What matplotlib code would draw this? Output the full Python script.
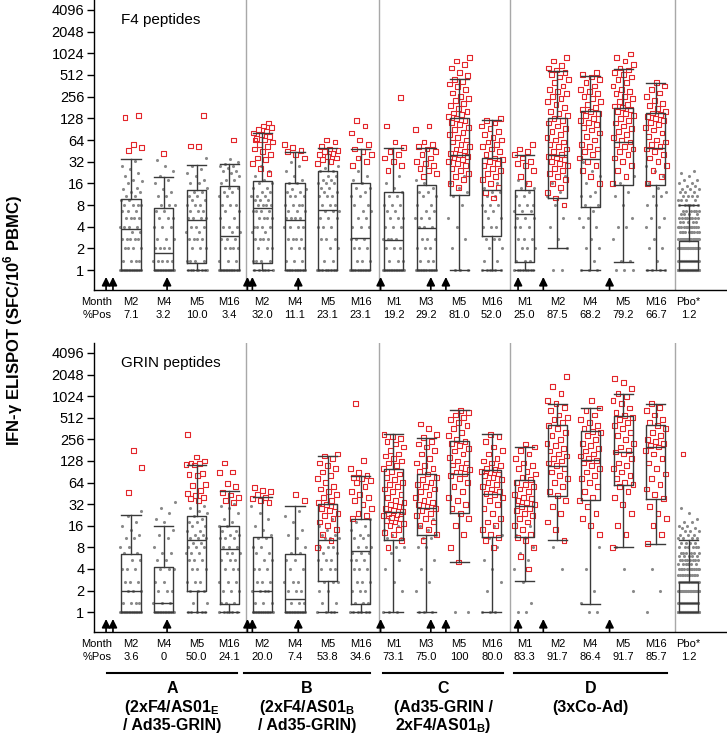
import numpy as np
import matplotlib
matplotlib.use('Agg')
import matplotlib.pyplot as plt
from matplotlib.ticker import NullLocator

plt.rcParams['font.family'] = ['Liberation Sans', 'DejaVu Sans']
plt.rcParams['mathtext.fontset'] = 'custom'
plt.rcParams['mathtext.rm'] = 'Liberation Sans'
plt.rcParams['mathtext.bf'] = 'Liberation Sans:bold'

# ---- data ----
months = ['M2', 'M4', 'M5', 'M16', 'M2', 'M4', 'M5', 'M16',
          'M1', 'M3', 'M5', 'M16', 'M1', 'M2', 'M4', 'M5', 'M16', 'Pbo*']
pct_f4 = ['7.1', '3.2', '10.0', '3.4', '32.0', '11.1', '23.1', '23.1',
          '19.2', '29.2', '81.0', '52.0', '25.0', '87.5', '68.2', '79.2', '66.7', '1.2']
pct_grin = ['3.6', '0', '50.0', '24.1', '20.0', '7.4', '53.8', '34.6',
            '73.1', '75.0', '100', '80.0', '83.3', '91.7', '86.4', '91.7', '85.7', '1.2']

groups = ['A', 'B', 'C', 'D']
group_desc = [[r'(2xF4/AS01$_\mathbf{E}$', '/ Ad35-GRIN)'],
              [r'(2xF4/AS01$_\mathbf{B}$', '/ Ad35-GRIN)'],
              ['(Ad35-GRIN /', r'2xF4/AS01$_\mathbf{B}$)'],
              ['(3xCo-Ad)']]

# vaccination arrows (x in box-slot units)
vacc_x = [-0.76, -0.55, 1.10, 3.55, 3.70, 5.10, 7.61, 9.14, 9.60, 11.80, 12.57, 14.59]

# box stats: (whisker low, q1, median, q3, whisker high)
box_f4 = [(1, 1, 3.7, 9.6, 35), (1, 1, 1.7, 7.3, 19.5), (1, 1.25, 5, 13, 28.6), (1, 1, 3, 14.6, 29.5),
          (1, 1.25, 7.3, 17, 80), (1, 1, 5, 16, 44), (1, 1, 6.8, 24, 50), (1, 1, 2.8, 16, 48),
          (1, 1, 2.6, 12, 50), (1, 1, 3.8, 15, 50), (1, 11, 40, 128, 450), (1, 3, 13, 36, 120),
          (1, 1.3, 6, 13, 40), (2, 10, 40, 128, 580), (1, 7.5, 35, 160, 500), (1.3, 15, 60, 180, 620),
          (1, 15, 50, 150, 400), (1, 1, 1.33, 2.5, 8)]
box_grin = [(1, 1, 2, 6.4, 22.4), (1, 1, 1.33, 4.3, 15.8), (1, 2, 10, 22, 112), (1, 1.3, 7.6, 16, 48),
            (1, 1, 2, 11, 40), (1, 1, 1.5, 6.5, 30), (1, 2.7, 10, 32, 150), (1, 1.3, 7, 20, 80),
            (1, 10, 25, 100, 300), (1, 12, 28, 85, 270), (5, 24, 85, 240, 650), (1, 11, 45, 95, 300),
            (2.7, 11, 30, 70, 200), (10, 42, 110, 400, 800), (1.3, 36, 130, 330, 700), (8, 60, 170, 550, 1100),
            (9, 38, 200, 400, 800), (1, 1, 1.33, 2.6, 10)]

# individual responses, "value*count"
gray_f4 = [
    "1*16 1.33*4 2*4 2.67*5 3.33*2 4*4 5.33*4 6.67*3 8*4 9.33*2 10.67*2 12*2 13.3 14 16 17 18 20 22 25 28 33",
    "1*15 1.33*5 2*4 2.67*3 4*3 5.33*3 6.67*2 8*3 10.67*2 12 13.3 16 18 20 24 28 34",
    "1*8 1.33*4 2*3 2.67*4 3.33*2 4*3 5.33*4 6.67*3 8*3 9.33*2 10.67*2 12*2 14 16*2 18 20 22 25 28 36",
    "1*12 1.33*3 2*4 2.67*3 3.33*2 4*3 5.33*2 6.67*2 8*3 10.67*2 12*2 14*2 16 18*2 20 22 24*2 26 28*2 30 32 35",
    "1*6 1.33*4 2*3 2.67*4 3.33*2 4*4 5.33*4 6.67*4 8*4 9.33*3 10.67*3 12*2 14*2 16*2 18 20 24 28",
    "1*10 1.33*3 2*3 2.67*4 4*4 5.33*4 6.67*3 8*4 10.67*3 12*2 13.3*2 16*2 18 20 24 28 32",
    "1*8 1.33*2 2*2 2.67*3 4*3 5.33*3 6.67*3 8*3 10.67*3 12*2 14*2 16*3 18*2 20*2 24*2 26 28",
    "1*12 1.33*3 2*3 2.67*3 4*3 5.33*2 6.67*2 8*2 10.67*2 12 14*2 16 18 20 24",
    "1*14 1.33*3 2*3 2.67*4 4*3 5.33*3 6.67*2 8*3 10.67*2 12 14 16 20",
    "1*12 1.33*3 2*3 2.67*3 4*3 5.33*3 6.67*2 8*2 10.67*2 12*2 14 16 18",
    "1*3 2 2.67 4 5.33 8 10.67 12 14 16 20",
    "1*6 1.33*2 2*2 2.67*3 4*3 5.33*2 6.67*2 8*3 10.67*2 12*2 14 16",
    "1*8 1.33*3 2*3 2.67*3 4*3 5.33*3 6.67*3 8*3 10.67*2 12 14*2 16 18",
    "1*2 2 2.67 4 5.33 8 10.67 12 16 20",
    "1*3 1.33 2*2 2.67 4*2 5.33*2 6.67 8*2 10.67*2 12 16 20 24 32",
    "1*3 1.33*2 2.67 4*2 5.33 8 10.67 12 16 20",
    "1*4 1.33 2*2 2.67 4*2 5.33*2 8*2 10.67*2 12 14 16 20 24 28",
    "1*60 1.33*30 2*25 2.67*20 3.33*10 4*12 4.67*5 5.33*8 6*4 6.67*6 8*6 9.33*4 10.67*4 12*3 13.3*3 14.67*2 16*2 18*2 20 22 24",
]
red_f4 = [
    "46 50 56 130 140",
    "42",
    "52 53 140",
    "64",
    "22 26 30 34 36 40 44 48 52 56 60 64 68 72 76 80 84 90 96 100 64 110",
    "36 40 44 46 50 56",
    "30 32 34 36 38 40 42 44 46 48 52 60 64",
    "28 32 36 40 44 48 56 64 80 100 120",
    "24 28 32 36 40 44 50 60 100 250",
    "20 22 24 26 28 30 32 36 40 44 48 52 56 60 90 100",
    "14 16 18 20 22 24 26 28 30 32 34 36 38 40 42 45 48 52 56 60 64 70 76 82 90 96 104 112 120 128 136 144 "
    "152 160 176 192 208 224 240 256 288 320 352 384 416 448 500 560 640 720 800 900",
    "10 12 14 16 18 20 22 24 26 28 30 32 34 36 40 44 48 52 56 60 64 70 76 84 92 100 110 120 128",
    "16 20 24 28 30 32 36 40 44 48 56",
    "8 10 12 14 16 18 20 22 24 26 28 30 32 34 36 38 40 44 48 52 56 60 64 70 76 84 92 100 110 120 128 140 "
    "150 160 180 200 220 240 256 280 300 320 360 400 440 480 520 560 600 640 700 800 900",
    "16 20 24 28 32 36 40 44 48 52 56 64 72 80 88 96 104 112 120 128 140 150 160 170 180 200 220 240 260 "
    "280 300 320 360 400 440 480 520 560",
    "16 20 24 28 32 36 40 44 48 52 56 60 64 70 76 84 92 100 110 120 128 140 150 160 170 180 190 200 220 "
    "240 260 280 300 320 360 400 440 480 520 560 600 640 720 800 900 1000",
    "16 20 24 28 32 36 40 44 48 52 56 60 64 72 80 88 96 104 112 120 128 136 144 152 160 176 192 208 224 "
    "256 288 320 360 400",
    "",
]
gray_grin = [
    "1*16 1.33*4 2*3 2.67*3 4*3 5.33*2 6.67*2 8*2 10.67*2 12 14 16 18 22 26",
    "1*14 1.33*3 2*3 2.67*2 4*3 5.33*2 6.67*2 8 10.67 12 14 18 20 24 28 34",
    "1*5 1.33*2 2*3 2.67*3 4*3 5.33*3 6.67*3 8*3 9.33*2 10.67*3 12*2 13.3*2 16*2 18*2 20 22 24 26 28 30",
    "1*6 1.33*3 2*3 2.67*3 4*3 5.33*3 6.67*3 8*3 10.67*3 12*2 13.3*2 16*2 18 20 24 28 30 32",
    "1*12 1.33*3 2*4 2.67*3 4*3 5.33*2 6.67*2 8*2 10.67*2 12 14 16 20 24 30",
    "1*13 1.33*3 2*3 2.67*3 4*2 5.33*2 6.67*2 8 10.67 12 14 18 22 26",
    "1*4 1.33*2 2*2 2.67*3 4*3 5.33*3 6.67*2 8*3 10.67*3 12*2 14 16 20",
    "1*6 1.33*3 2*3 2.67*3 4*3 5.33*3 6.67*3 8*3 10.67*2 12*2 14 16 18 20",
    "1*3 2 2.67 4 5.33 6.67 8*2 10.67*2 12 14 16 20 24",
    "1*3 2 2.67 4 5.33 8*2 10.67*2 12 14 16 20",
    "1*2",
    "1*3 2 2.67 4 5.33 8 10.67 12 16",
    "1*2 1.33 2.67 4 5.33 6.67 8 10.67 12 16",
    "4 8",
    "1*2 1.33 2 4 8",
    "2 4 8",
    "1 2 4",
    "1*55 1.33*30 2*25 2.67*20 3.33*12 4*12 4.67*6 5.33*8 6*5 6.67*6 8*6 9.33*4 10.67*4 12*3 13.3*3 14.67*2 16*2 18*2 20 24 28",
]
red_grin = [
    "47 105 180",
    "",
    "36 38 40 42 45 50 58 60 80 82 85 112 115 118 120 128 145 300",
    "34 36 40 43 47 56 62 88 90 120",
    "34 36 38 40 44 48 50 55",
    "36 44",
    "8 10 12 14 16 18 20 22 24 26 28 30 32 34 36 40 44 48 52 56 64 72 80 90 100 110 120 140 150 160",
    "20 22 24 28 32 36 40 44 48 56 64 68 72 76 80 88 100 130 800",
    "8 10 12 13 14 16 17 18 19 20 21 22 23 24 25 26 28 30 32 34 36 40 44 48 52 56 60 64 70 76 84 92 100 110 "
    "120 128 140 150 160 180 200 220 240 260 280 300",
    "10 12 14 16 18 20 22 24 26 28 30 32 34 36 40 44 48 52 56 60 64 70 76 84 92 100 110 120 140 160 180 200 "
    "220 240 270 300 360 420",
    "5 8 12 16 20 24 28 32 36 40 48 56 64 72 80 85 90 96 104 112 120 128 144 160 176 192 208 224 240 256 288 "
    "320 360 400 440 480 520 560 600 650",
    "8 10 11 12 14 16 18 20 24 28 32 36 40 44 45 48 52 56 60 64 70 76 80 84 88 92 96 100 110 120 128 140 160 "
    "180 200 240 280 300",
    "4 6 8 10 11 12 14 16 18 20 22 24 26 28 30 32 34 36 38 40 44 48 52 56 60 64 70 76 84 92 100 110 120 140 "
    "160 180 200 220",
    "10 14 18 24 30 36 42 48 56 64 72 80 90 100 110 120 128 140 150 160 176 192 208 224 256 288 320 360 400 "
    "440 480 520 560 640 720 800 900 1100 1400 1900",
    "12 16 20 24 30 36 40 48 56 64 72 80 90 100 110 120 130 140 150 160 176 192 208 224 256 288 320 330 360 "
    "400 440 480 560 640 700 900",
    "8 12 16 24 32 40 48 56 60 64 72 80 90 100 110 120 140 160 170 180 200 224 256 288 320 360 400 440 480 "
    "520 550 600 700 800 900 1000 1100 1300 1600 1800",
    "9 12 16 20 24 30 38 44 52 60 72 84 100 120 140 160 180 200 210 224 240 256 288 320 360 400 440 480 560 "
    "640 720 800",
    "160",
]


def parse(s):
    out = []
    for tok in s.split():
        if '*' in tok:
            v, n = tok.split('*')
            out += [float(v)] * int(n)
        else:
            out.append(float(tok))
    return np.array(out)


def jitter(n, seed):
    # deterministic spread across the box width
    return ((np.arange(n) * 0.6180339887 + seed) % 1.0 - 0.5) * 0.66


def draw_panel(ax, title, boxes, grays, reds, pcts):
    n = len(months)
    pos = np.arange(n)
    for i in range(n):
        g = parse(grays[i])
        r = parse(reds[i])
        ax.scatter(pos[i] + jitter(len(g), 0.13 * i), g, s=5, color='#8a8a8a',
                   linewidths=0, zorder=2)
        if len(r):
            ax.scatter(pos[i] + jitter(len(r), 0.37 + 0.11 * i), r, s=12, marker='s',
                       facecolors='none', edgecolors='#e3262b', linewidths=0.8, zorder=3)

    stats = [dict(whislo=b[0], q1=b[1], med=b[2], q3=b[3], whishi=b[4], fliers=[]) for b in boxes]
    lp = dict(color='#3a3a3a', linewidth=1.0)
    ax.bxp(stats, positions=pos, widths=0.58, showfliers=False, capwidths=0.58,
           boxprops=lp, whiskerprops=lp, capprops=lp, medianprops=lp, manage_ticks=False,
           zorder=4)

    ax.set_yscale('log', base=2)
    ax.set_ylim(2 ** -0.92, 2 ** 12.46)
    ax.set_xlim(-1.128, 18.17)
    ticks = [2 ** k for k in range(13)]
    ax.set_yticks(ticks)
    ax.set_yticklabels([str(t) for t in ticks])
    ax.yaxis.set_minor_locator(NullLocator())
    ax.set_xticks([])
    ax.tick_params(axis='y', length=5, width=1, labelsize=10.5, pad=2)
    for s in ['top', 'right']:
        ax.spines[s].set_visible(False)
    ax.spines['left'].set_linewidth(1.0)
    ax.spines['bottom'].set_linewidth(1.0)

    for sx in [3.52, 7.55, 11.56, 16.57]:
        ax.axvline(sx, color='#a8a8a8', lw=1.0, zorder=1)

    tr = ax.get_xaxis_transform()
    for vx in vacc_x:
        ax.annotate('', xy=(vx, 0.045), xytext=(vx, 0.0), xycoords=tr, textcoords=tr,
                    arrowprops=dict(arrowstyle='-|>,head_length=0.5,head_width=0.25',
                                    color='black', lw=1.2, mutation_scale=10,
                                    shrinkA=0, shrinkB=0))

    ax.text(-0.3, 0.93, title, transform=tr, fontsize=11, va='center', ha='left')

    ax.text(-0.58, -0.042, 'Month', transform=tr, fontsize=8, ha='right', va='center')
    ax.text(-0.58, -0.087, '%Pos', transform=tr, fontsize=8, ha='right', va='center')
    for i in range(n):
        ax.text(pos[i], -0.042, months[i], transform=tr, fontsize=8, ha='center', va='center')
        ax.text(pos[i], -0.087, pcts[i], transform=tr, fontsize=8, ha='center', va='center')


fig = plt.figure(figsize=(7.27, 7.36), dpi=100)
ax1 = fig.add_axes([94 / 727, 1 - 290 / 736, 633 / 727, 290 / 736])
ax2 = fig.add_axes([94 / 727, 1 - 632 / 736, 633 / 727, 289 / 736])

draw_panel(ax1, 'F4 peptides', box_f4, gray_f4, red_f4, pct_f4)
draw_panel(ax2, 'GRIN peptides', box_grin, gray_grin, red_grin, pct_grin)

# group brackets under the lower panel
tr = ax2.get_xaxis_transform()
spans = [(-0.73, 3.24), (3.46, 7.28), (7.68, 11.35), (11.68, 16.33)]
for (x0, x1), name, desc in zip(spans, groups, group_desc):
    ax2.plot([x0, x1], [-0.142, -0.142], color='black', lw=1.5, transform=tr, clip_on=False)
    xc = (x0 + x1) / 2
    ax2.text(xc, -0.194, name, transform=tr, fontsize=11.5, fontweight='bold', ha='center', va='center')
    for k, line in enumerate(desc):
        ax2.text(xc, -0.262 - 0.063 * k, line, transform=tr, fontsize=11.5, fontweight='bold',
                 ha='center', va='center')

fig.text(13 / 727, 1 - 320 / 736, r'IFN-γ ELISPOT (SFC/10$^\mathbf{6}$ PBMC)', rotation=90,
         fontsize=12, fontweight='bold', ha='center', va='center')

fig.savefig('out.png', dpi=100)
